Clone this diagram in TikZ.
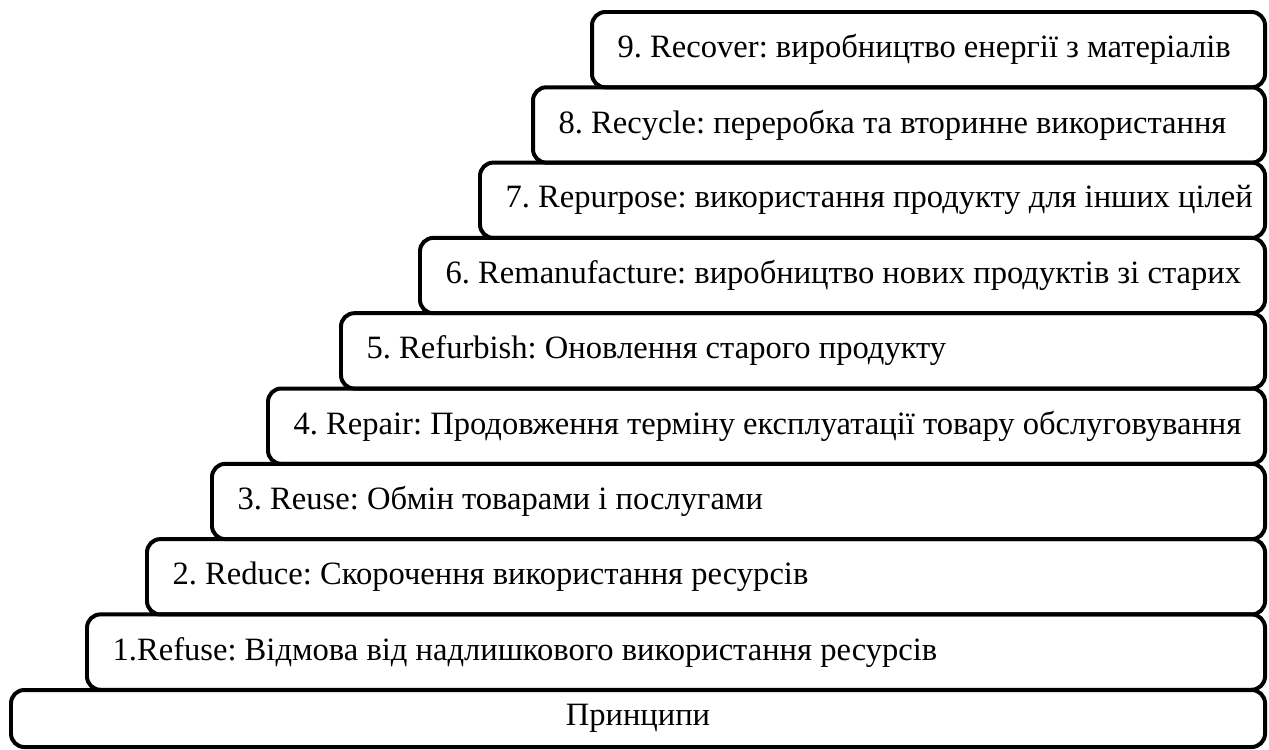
\documentclass[tikz,border=0pt]{standalone}
\usepackage{fontspec}
\setmainfont{Liberation Serif}
\usepackage{tikz}
\usetikzlibrary{positioning}

\begin{document}
\frenchspacing
\begin{tikzpicture}[x=0.03cm, y=-0.03cm,
    stepbox/.style={draw, line width=3.4pt, rounded corners=0.4cm, outer sep=0pt,
        minimum height=2.26cm, inner xsep=0.77cm, anchor=north west,
        font=\fontsize{27.8}{30}\selectfont},
    basebox/.style={draw, line width=3.4pt, rounded corners=0.4cm, outer sep=0pt,
        minimum height=1.71cm, anchor=north west, font=\fontsize{27.8}{30}\selectfont}
]
\useasboundingbox (0,0) rectangle (1269,749);

% Steps of the ladder, top to bottom
\foreach \i/\xl/\txt in {
    9/592/{9. Recover: виробництво енергії з матеріалів},
    8/533/{8. Recycle: переробка та вторинне використання},
    7/480/{7. Repurpose: використання продукту для інших цілей},
    6/420/{6. Remanufacture: виробництво нових продуктів зі старих},
    5/341/{5. Refurbish: Оновлення старого продукту},
    4/268/{4. Repair: Продовження терміну експлуатації товару обслуговування},
    3/212/{3. Reuse: Обмін товарами і послугами},
    2/147/{2. Reduce: Скорочення використання ресурсів},
    1/87/{1.Refuse: Відмова від надлишкового використання ресурсів}}
{
    \pgfmathsetmacro\tw{(1265-\xl)*0.03-1.54}
    \node[stepbox] (s\i) at (\xl, {12+(9-\i)*75.3}) {\makebox[\tw cm][l]{\txt}};
}

% Base
\node[basebox, minimum width={(1265-11)*0.03cm}] (base) at (11,690) {Принципи};

\end{tikzpicture}
\end{document}
